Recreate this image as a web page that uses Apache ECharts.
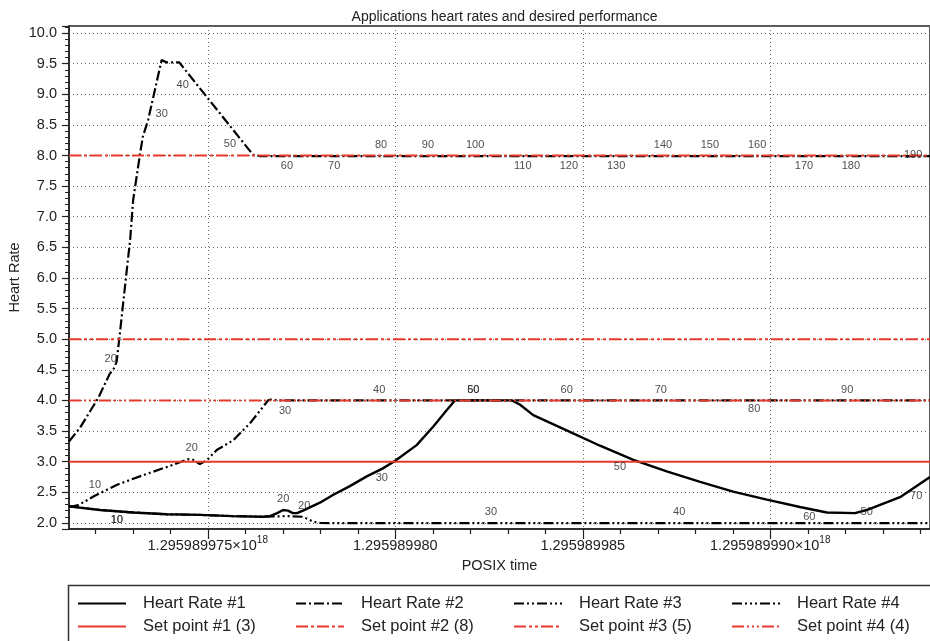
<!DOCTYPE html>
<html>
<head>
<meta charset="utf-8">
<script src="https://cdn.jsdelivr.net/npm/echarts@6/dist/echarts.min.js"></script>
<style>
  html, body { margin: 0; padding: 0; background: #fff; }
  #chart { width: 930px; height: 641px; }
</style>
</head>
<body>
<div id="chart"></div>
<script>
// x values are seconds after 1295989970 s (axis shows POSIX time in ns)
var xMin = 971.3, xMax = 994.26
var xTickValues = [975, 980, 985, 990]
var xTickLabels = ['1.295989975×10^18', '1.295989980', '1.295989985', '1.295989990×10^18']

// Heart Rate #1 (solid)
var hr1Time = [971.30, 972.13, 973.01, 973.91, 974.79, 975.67, 976.47, 976.66, 976.85, 977.01, 977.14, 977.27, 977.38, 977.54, 977.99, 978.35, 978.79, 979.24, 979.67, 979.99, 980.57, 981.01, 981.37, 981.59, 982.30, 983.11, 983.33, 983.68, 984.57, 985.46, 986.35, 987.24, 988.13, 989.01, 989.91, 990.79, 991.51, 992.26, 992.57, 993.46, 994.26]
var hr1Value = [2.27, 2.21, 2.17, 2.14, 2.13, 2.11, 2.10, 2.11, 2.16, 2.21, 2.20, 2.16, 2.16, 2.20, 2.33, 2.46, 2.60, 2.76, 2.89, 3.01, 3.27, 3.57, 3.84, 4.00, 4.00, 4.00, 3.93, 3.76, 3.51, 3.26, 3.03, 2.84, 2.67, 2.51, 2.38, 2.26, 2.17, 2.16, 2.21, 2.42, 2.75]
// Heart Rate #2 (dash dot)
var hr2Time = [971.30, 971.59, 972.08, 972.39, 972.48, 972.53, 972.57, 972.64, 972.85, 972.93, 973.01, 973.09, 973.19, 973.27, 973.41, 973.55, 973.77, 973.91, 974.24, 976.21, 976.39, 994.26]
var hr2Value = [3.33, 3.55, 4.04, 4.44, 4.50, 4.47, 4.63, 5.00, 6.18, 6.62, 7.27, 7.60, 8.01, 8.31, 8.58, 8.96, 9.56, 9.52, 9.52, 8.01, 7.99, 7.99]
// Heart Rate #3 (dash dot dot)
var hr3Time = [971.30, 971.55, 971.95, 972.57, 973.28, 973.99, 974.48, 974.61, 974.79, 974.97, 975.24, 975.68, 976.13, 976.48, 976.61, 976.71, 976.84, 994.26]
var hr3Value = [2.26, 2.29, 2.43, 2.62, 2.78, 2.93, 3.04, 3.03, 2.96, 3.02, 3.19, 3.35, 3.63, 3.90, 4.00, 4.02, 4.00, 4.00]
// Heart Rate #4 (dash dot dot dot)
var hr4Time = [971.30, 972.13, 973.01, 973.91, 974.79, 975.67, 976.47, 977.14, 977.54, 977.81, 978.00, 978.30, 994.26]
var hr4Value = [2.27, 2.21, 2.17, 2.14, 2.13, 2.11, 2.10, 2.11, 2.10, 2.02, 2.00, 1.995, 1.995]

var setPoints = [3, 8, 5, 4]

// iteration labels [time, value, text]
var hr1Labels = [[972.57, 2.05, '10'], [977.01, 2.39, '20'], [979.64, 2.74, '30'], [982.08, 4.17, '60'], [985.99, 2.92, '50'], [991.04, 2.09, '60'], [993.89, 2.44, '70']]
var hr2Labels = [[972.41, 4.67, '20'], [973.77, 8.68, '30'], [974.33, 9.15, '40'], [975.59, 8.19, '50'], [977.11, 7.83, '60'], [978.37, 7.83, '70'], [979.62, 8.17, '80'], [980.87, 8.17, '90'], [982.13, 8.17, '100'], [983.40, 7.83, '110'], [984.63, 7.83, '120'], [985.89, 7.83, '130'], [987.14, 8.17, '140'], [988.39, 8.17, '150'], [989.65, 8.17, '160'], [990.90, 7.83, '170'], [992.15, 7.83, '180'], [993.81, 8.01, '190']]
var hr3Labels = [[971.99, 2.62, '10'], [974.57, 3.22, '20'], [977.06, 3.83, '30'], [979.57, 4.17, '40'], [982.08, 4.17, '50'], [984.57, 4.17, '60'], [987.08, 4.17, '70'], [989.57, 3.86, '80'], [992.05, 4.17, '90']]
var hr4Labels = [[972.58, 2.05, '10'], [977.57, 2.28, '20'], [982.55, 2.175, '30'], [987.57, 2.175, '40'], [992.57, 2.175, '50']]

var FONT = '"Liberation Sans", Arial, sans-serif'
var RED = '#e8392c'

function zip(t, v) {
  return t.map(function (x, i) { return [x, v[i]] })
}

var hrStyles = [
  { name: 'Heart Rate #1', type: 'solid', width: 2.4 },
  { name: 'Heart Rate #2', type: [10, 3, 2, 3], width: 2.2 },
  { name: 'Heart Rate #3', type: [10, 3, 2, 3, 2, 3], width: 2.2 },
  { name: 'Heart Rate #4', type: [10, 3, 2, 3, 2, 3, 2, 3], width: 2.2 }
]
var spStyles = [
  { name: 'Set point #1 (3)', type: 'solid' },
  { name: 'Set point #2 (8)', type: [12, 3, 3, 3] },
  { name: 'Set point #3 (5)', type: [12, 3, 3, 3, 3, 3] },
  { name: 'Set point #4 (4)', type: [12, 3, 2, 3, 2, 3, 2, 3] }
]
var hrData = [zip(hr1Time, hr1Value), zip(hr2Time, hr2Value), zip(hr3Time, hr3Value), zip(hr4Time, hr4Value)]
var labelData = [hr1Labels, hr2Labels, hr3Labels, hr4Labels]

var series = []
hrStyles.forEach(function (s, i) {
  series.push({
    name: s.name,
    type: 'line',
    data: hrData[i],
    symbol: 'none',
    lineStyle: { color: '#000', width: s.width, type: s.type },
    itemStyle: { color: '#000' },
    z: 3
  })
})
spStyles.forEach(function (s, i) {
  series.push({
    name: s.name,
    type: 'line',
    data: [[xMin, setPoints[i]], [xMax, setPoints[i]]],
    symbol: 'none',
    lineStyle: { color: RED, width: 2, type: s.type },
    itemStyle: { color: RED },
    z: 4
  })
})
labelData.forEach(function (d) {
  series.push({
    type: 'scatter',
    data: d,
    symbolSize: 1,
    silent: true,
    itemStyle: { color: 'rgba(0,0,0,0)' },
    label: {
      show: true,
      position: 'inside',
      formatter: function (p) { return p.data[2] },
      color: '#222',
      fontSize: 11,
      fontFamily: FONT
    },
    z: 5
  })
})

// one legend per entry: 4 columns x 2 rows
var legendLeft = [77, 295, 513, 731]
var legendTop = [595, 618]
var legends = []
;[hrStyles, spStyles].forEach(function (row, r) {
  row.forEach(function (s, c) {
    legends.push({
      left: legendLeft[c],
      top: legendTop[r],
      padding: 0,
      data: [s.name],
      itemWidth: 48,
      itemHeight: 16,
      selectedMode: false,
      itemStyle: { opacity: 0 },
      textStyle: { fontSize: 16.5, color: '#222', fontFamily: FONT, padding: [0, 0, 0, 12] }
    })
  })
})

var chart = echarts.init(document.getElementById('chart'))
chart.setOption({
  animation: false,
  backgroundColor: '#fff',
  title: {
    text: 'Applications heart rates and desired performance',
    left: 499.5,
    top: 5,
    textAlign: 'center',
    textStyle: { fontSize: 14, fontWeight: 'normal', color: '#222', fontFamily: FONT }
  },
  legend: legends,
  graphic: [{
    type: 'rect',
    shape: { x: 68.5, y: 585.5, width: 900, height: 100 },
    style: { fill: 'none', stroke: '#333', lineWidth: 1.5 },
    silent: true
  }],
  grid: {
    left: 69, top: 26, right: 0, bottom: 112,
    outerBoundsMode: 'none',
    show: true, borderColor: '#222', borderWidth: 1.5
  },
  xAxis: {
    type: 'value',
    min: xMin,
    max: xMax,
    splitNumber: 5,
    name: 'POSIX time',
    nameLocation: 'middle',
    nameGap: 29,
    nameMoveOverlap: false,
    nameTextStyle: { fontSize: 14.5, color: '#222', fontFamily: FONT },
    axisLine: { lineStyle: { color: '#222', width: 1.5 } },
    axisTick: { length: 10, customValues: xTickValues, lineStyle: { color: '#222', width: 1.2 } },
    minorTick: { show: true, splitNumber: 5, length: 5, lineStyle: { color: '#222', width: 1.2 } },
    splitLine: { show: true, lineStyle: { color: '#666', type: [1, 3], width: 1 } },
    axisLabel: {
      margin: 6,
      customValues: xTickValues,
      fontFamily: FONT,
      formatter: function (v) {
        var i = xTickValues.indexOf(Math.round(v * 100) / 100)
        if (i < 0) return ''
        var parts = xTickLabels[i].split('^')
        return parts[1] ? '{m|' + parts[0] + '}{e|' + parts[1] + '}' : '{m|' + parts[0] + '}'
      },
      rich: {
        m: { fontSize: 14.5, color: '#222', lineHeight: 22, fontFamily: FONT },
        e: { fontSize: 10, color: '#222', lineHeight: 10, verticalAlign: 'top', fontFamily: FONT }
      }
    }
  },
  yAxis: {
    type: 'value',
    min: 1.9,
    max: 10.115,
    splitNumber: 16,
    name: 'Heart Rate',
    nameLocation: 'middle',
    nameGap: 47,
    nameMoveOverlap: false,
    nameTextStyle: { fontSize: 14.5, color: '#222', fontFamily: FONT },
    axisLine: { show: true, lineStyle: { color: '#222', width: 1.5 } },
    axisTick: { show: true, length: 7, lineStyle: { color: '#222', width: 1.2 } },
    minorTick: { show: true, splitNumber: 5, length: 4, lineStyle: { color: '#222', width: 1 } },
    splitLine: { show: true, lineStyle: { color: '#666', type: [1, 3], width: 1 } },
    axisLabel: {
      margin: 12,
      showMinLabel: false,
      showMaxLabel: false,
      fontSize: 14.5,
      color: '#222',
      fontFamily: FONT,
      formatter: function (v) { return v.toFixed(1) }
    }
  },
  series: series
})
</script>
</body>
</html>
